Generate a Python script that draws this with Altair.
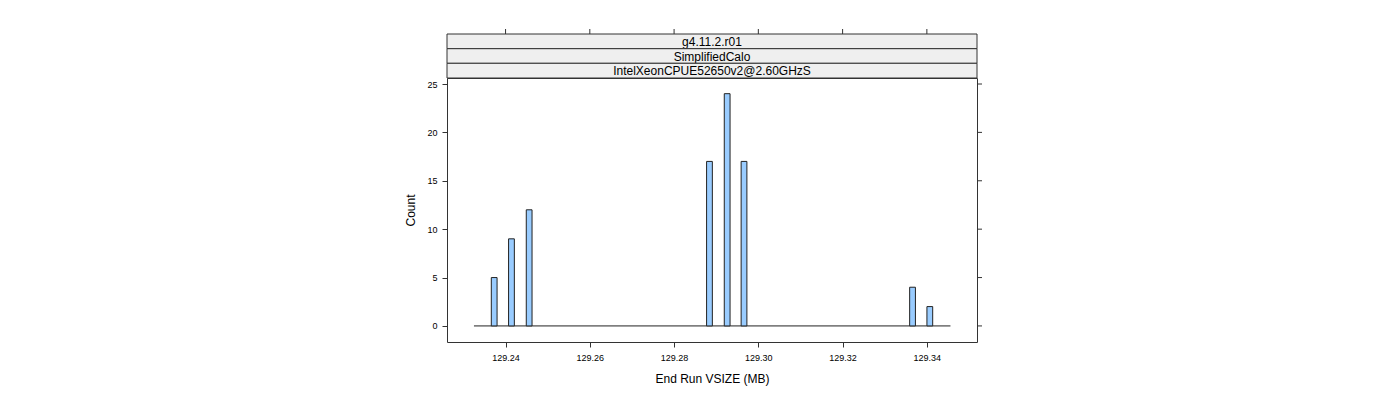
import altair as alt
import pandas as pd

# ---- data ----
bar_centers = [129.2373, 129.2414, 129.2456, 129.2884, 129.2926, 129.2966, 129.3366, 129.3407]
bar_counts = [5, 9, 12, 17, 24, 17, 4, 2]
bin_width = 0.00137
hist_range = [129.2325, 129.3456]          # extent of the (mostly empty) histogram bins
x_ticks = [129.24, 129.26, 129.28, 129.30, 129.32, 129.34]
y_ticks = [0, 5, 10, 15, 20, 25]
strip_labels = ["g4.11.2.r01", "SimplifiedCalo", "IntelXeonCPUE52650v2@2.60GHzS"]
x_domain = [129.2261, 129.3519]
y_domain = [-1.66, 25.62]
x_title = "End Run VSIZE (MB)"
y_title = "Count"

FONT = "Liberation Sans"
W, H = 530, 264
EDGE = "#333333"

bars = pd.DataFrame({
    "x": [c - bin_width / 2 for c in bar_centers],
    "x2": [c + bin_width / 2 for c in bar_centers],
    "count": bar_counts,
})
base_df = pd.DataFrame({"x": [hist_range[0]], "x2": [hist_range[1]]})
xt_df = pd.DataFrame({"x": x_ticks})
yt_df = pd.DataFrame({"count": y_ticks})

xs = alt.Scale(domain=x_domain, nice=False, zero=False)
ys = alt.Scale(domain=y_domain, nice=False, zero=False)
xaxis = alt.Axis(values=x_ticks, format=".2f", grid=False, domain=False,
                 tickSize=5, tickColor=EDGE, labelFontSize=9, labelFont=FONT,
                 labelColor="#000", labelPadding=6, titleFontSize=12, titleFont=FONT,
                 titleFontWeight="normal", titleColor="#000", titlePadding=11)
yaxis = alt.Axis(values=y_ticks, grid=False, domain=False,
                 tickSize=5, tickColor=EDGE, labelFontSize=9, labelFont=FONT,
                 labelColor="#000", labelPadding=5, titleFontSize=12, titleFont=FONT,
                 titleFontWeight="normal", titleColor="#000", titlePadding=9)

X = lambda f: alt.X(f, scale=xs, axis=xaxis, title=x_title)
Y = lambda f: alt.Y(f, scale=ys, axis=yaxis, title=y_title)

baseline = alt.Chart(base_df).mark_rule(color="#222", strokeWidth=1).encode(
    x=X("x:Q"), x2="x2:Q", y=Y("zero:Q")
).transform_calculate(zero="0")

bar_layer = alt.Chart(bars).mark_rect(fill="#99CCFF", stroke="#222", strokeWidth=1).encode(
    x=X("x:Q"), x2="x2:Q", y=Y("count:Q"), y2="zero:Q"
).transform_calculate(zero="0")

top_ticks = alt.Chart(xt_df).mark_rule(color=EDGE).encode(
    x=X("x:Q"), y=alt.value(-44), y2=alt.value(-49)
)
right_ticks = alt.Chart(yt_df).mark_rule(color=EDGE).encode(
    y=Y("count:Q"), x=alt.value(W), x2=alt.value(W + 5)
)

strip_bounds = [(-44, -29.3), (-29.3, -14.7), (-14.7, 0)]
strip_layers = []
for lab, (t, b) in zip(strip_labels, strip_bounds):
    sdf = pd.DataFrame({"label": [lab]})
    strip_layers.append(
        alt.Chart(sdf).mark_rect(fill="#EFEFEF", stroke=EDGE, strokeWidth=1).encode(
            x=alt.value(0), x2=alt.value(W), y=alt.value(t), y2=alt.value(b)
        )
    )
    strip_layers.append(
        alt.Chart(sdf).mark_text(font=FONT, fontSize=12, color="#000", baseline="middle").encode(
            x=alt.value(W / 2), y=alt.value((t + b) / 2 + 0.5), text="label:N"
        )
    )

chart = alt.layer(
    baseline, bar_layer, top_ticks, right_ticks, *strip_layers
).properties(
    width=W, height=H,
    autosize=alt.AutoSizeParams(type="none"),
    padding={"left": 447, "top": 78, "right": 1400 - 447 - W, "bottom": 400 - 78 - H},
    background="white",
).configure_view(stroke=EDGE, strokeWidth=1)

chart.save("out.html", embed_options={"renderer": "svg", "actions": False})
